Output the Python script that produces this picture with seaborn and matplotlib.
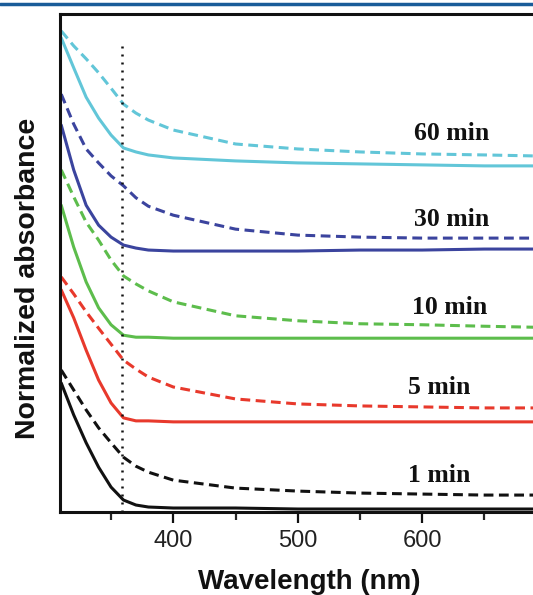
import numpy as np
import pandas as pd
import matplotlib
matplotlib.use('Agg')
import matplotlib.pyplot as plt
import seaborn as sns
from matplotlib.lines import Line2D
from matplotlib.ticker import MultipleLocator

# Wavelength grid (nm) and normalized absorbance
wavelength = [310, 320, 330, 340, 350, 360, 370, 380, 400, 450, 500, 550, 600, 650, 690]

abs_1_solid = [0.259, 0.195, 0.139, 0.090, 0.050, 0.024, 0.014, 0.010, 0.008, 0.008, 0.006, 0.006, 0.006, 0.006, 0.006]
abs_1_dash = [0.285, 0.245, 0.205, 0.169, 0.139, 0.110, 0.092, 0.080, 0.064, 0.048, 0.042, 0.038, 0.036, 0.034, 0.034]
abs_5_solid = [0.446, 0.390, 0.325, 0.265, 0.219, 0.189, 0.183, 0.183, 0.181, 0.181, 0.181, 0.181, 0.181, 0.181, 0.181]
abs_5_dash = [0.472, 0.438, 0.402, 0.369, 0.337, 0.305, 0.287, 0.271, 0.251, 0.227, 0.217, 0.213, 0.211, 0.209, 0.209]
abs_10_solid = [0.616, 0.532, 0.462, 0.410, 0.376, 0.355, 0.351, 0.351, 0.349, 0.349, 0.349, 0.349, 0.349, 0.349, 0.349]
abs_10_dash = [0.687, 0.633, 0.582, 0.546, 0.506, 0.474, 0.458, 0.444, 0.422, 0.394, 0.384, 0.378, 0.376, 0.373, 0.371]
abs_30_solid = [0.777, 0.687, 0.616, 0.576, 0.552, 0.536, 0.530, 0.526, 0.524, 0.524, 0.524, 0.526, 0.526, 0.528, 0.528]
abs_30_dash = [0.839, 0.779, 0.729, 0.701, 0.675, 0.655, 0.631, 0.614, 0.596, 0.568, 0.556, 0.552, 0.550, 0.550, 0.550]
abs_60_solid = [0.952, 0.892, 0.833, 0.791, 0.757, 0.731, 0.723, 0.717, 0.711, 0.705, 0.701, 0.699, 0.697, 0.695, 0.695]
abs_60_dash = [0.966, 0.936, 0.910, 0.882, 0.851, 0.819, 0.801, 0.787, 0.767, 0.739, 0.729, 0.723, 0.719, 0.717, 0.715]

times = ['1 min', '5 min', '10 min', '30 min', '60 min']
colors = ['#111111', '#e8392c', '#5dbd4c', '#3b449e', '#62c6d8']
label_wl = [614, 614, 622, 624, 624]
label_y = [0.074, 0.249, 0.410, 0.588, 0.761]
solid = [abs_1_solid, abs_5_solid, abs_10_solid, abs_30_solid, abs_60_solid]
dashed = [abs_1_dash, abs_5_dash, abs_10_dash, abs_30_dash, abs_60_dash]

sns.set_style('ticks')
plt.rcParams['font.family'] = ['Liberation Sans', 'DejaVu Sans']

fig = plt.figure(figsize=(5.33, 5.95), dpi=100)
ax = fig.add_axes([60 / 533, 1 - 512 / 595, 473 / 533, 498 / 595])

for t, c, ys, yd in zip(times, colors, solid, dashed):
    sns.lineplot(x=wavelength, y=yd, ax=ax, color=c, linewidth=2.2,
                 linestyle=(0, (3.2, 1.8)))
    sns.lineplot(x=wavelength, y=ys, ax=ax, color=c, linewidth=2.2)

for t, lx, ly in zip(times, label_wl, label_y):
    ax.text(lx, ly, t, ha='center', va='center', fontsize=18.5, fontweight='bold',
            family='Liberation Serif', color='#111111')

# marker line at 360 nm
ax.vlines(359, 0, 0.94, colors='#111111', linewidth=1.8, linestyles=(0, (0.8, 2.4)))

ax.set_xlim(309, 689)
ax.set_ylim(0, 1)
ax.xaxis.set_major_locator(MultipleLocator(100))
ax.xaxis.set_minor_locator(MultipleLocator(50))
ax.set_yticks([])
ax.tick_params(axis='x', which='major', direction='out', length=8, width=1.6,
               labelsize=17, pad=5, colors='#111111', labelcolor='#222222')
ax.tick_params(axis='x', which='minor', direction='out', length=6, width=1.6)

for s in ['left', 'bottom', 'top']:
    ax.spines[s].set_linewidth(2.2)
    ax.spines[s].set_color('#111111')
ax.spines['right'].set_visible(False)

ax.set_xlabel('Wavelength (nm)', fontsize=20, fontweight='bold', color='#111111')
ax.xaxis.label.set_va('center')
ax.xaxis.set_label_coords(0.527, -0.1406)
ax.set_ylabel('Normalized absorbance', fontsize=20.5, fontweight='bold', color='#111111')
ax.yaxis.label.set_va('center')
ax.yaxis.set_label_coords(-0.068, 0.47)

# journal header rule
fig.add_artist(Line2D([0, 1], [1 - 4 / 595, 1 - 4 / 595], transform=fig.transFigure,
                      color='#1a5c99', linewidth=2.5))

fig.savefig('out.png', dpi=100)
